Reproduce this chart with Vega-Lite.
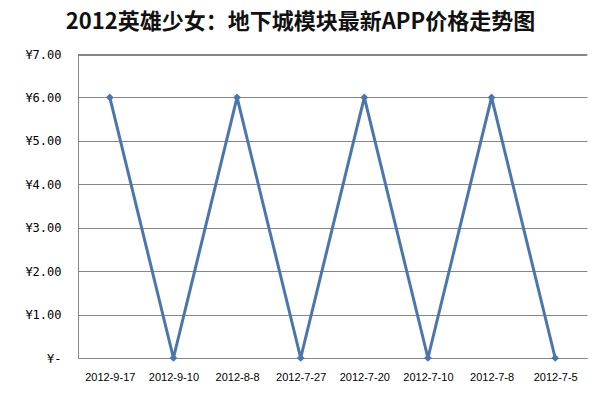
{
  "$schema": "https://vega.github.io/schema/vega-lite/v6.json",
  "width": 509,
  "height": 304,
  "autosize": {"type": "none"},
  "padding": {"left": 78, "top": 54, "right": 12, "bottom": 43},
  "background": "white",
  "title": {
    "text": "2012英雄少女：地下城模块最新APP价格走势图",
    "font": "Noto Sans CJK SC",
    "fontSize": 22,
    "fontWeight": "bold",
    "color": "#111111",
    "anchor": "middle",
    "frame": "group",
    "dx": -32,
    "offset": 14
  },
  "data": {
    "values": [
      {"date": "2012-9-17", "price": 6},
      {"date": "2012-9-10", "price": 0},
      {"date": "2012-8-8", "price": 6},
      {"date": "2012-7-27", "price": 0},
      {"date": "2012-7-20", "price": 6},
      {"date": "2012-7-10", "price": 0},
      {"date": "2012-7-8", "price": 6},
      {"date": "2012-7-5", "price": 0}
    ]
  },
  "layer": [
    {
      "mark": {"type": "rule", "color": "#868686", "strokeWidth": 1, "yOffset": 1},
      "encoding": {"y": {"datum": 7}}
    },
    {
      "mark": {
        "type": "line",
        "color": "#4a76ab",
        "strokeWidth": 3,
        "point": {"shape": "diamond", "size": 60, "filled": true, "color": "#4a76ab"}
      },
      "encoding": {
        "x": {
          "field": "date",
          "type": "ordinal",
          "sort": null,
          "scale": {"type": "point", "padding": 0.5},
          "axis": {
            "title": null,
            "labelAngle": 0,
            "ticks": false,
            "grid": false,
            "domainColor": "#868686",
            "labelFont": "Liberation Sans",
            "labelFontSize": 11,
            "labelColor": "#000000",
            "labelPadding": 13,
            "labelOverlap": false
          }
        },
        "y": {
          "field": "price",
          "type": "quantitative",
          "scale": {"domain": [0, 7], "nice": false},
          "axis": {
            "title": null,
            "values": [0, 1, 2, 3, 4, 5, 6, 7],
            "labelExpr": "datum.value == 0 ? '¥-   ' : '¥' + format(datum.value, '.2f')",
            "ticks": false,
            "grid": true,
            "gridColor": "#868686",
            "gridWidth": 1,
            "domainColor": "#868686",
            "labelFont": "DejaVu Sans Mono",
            "labelFontSize": 12,
            "labelColor": "#000000",
            "labelPadding": 17,
            "labelOverlap": false,
            "labelBound": false
          }
        }
      }
    }
  ],
  "config": {"view": {"stroke": null}}
}
